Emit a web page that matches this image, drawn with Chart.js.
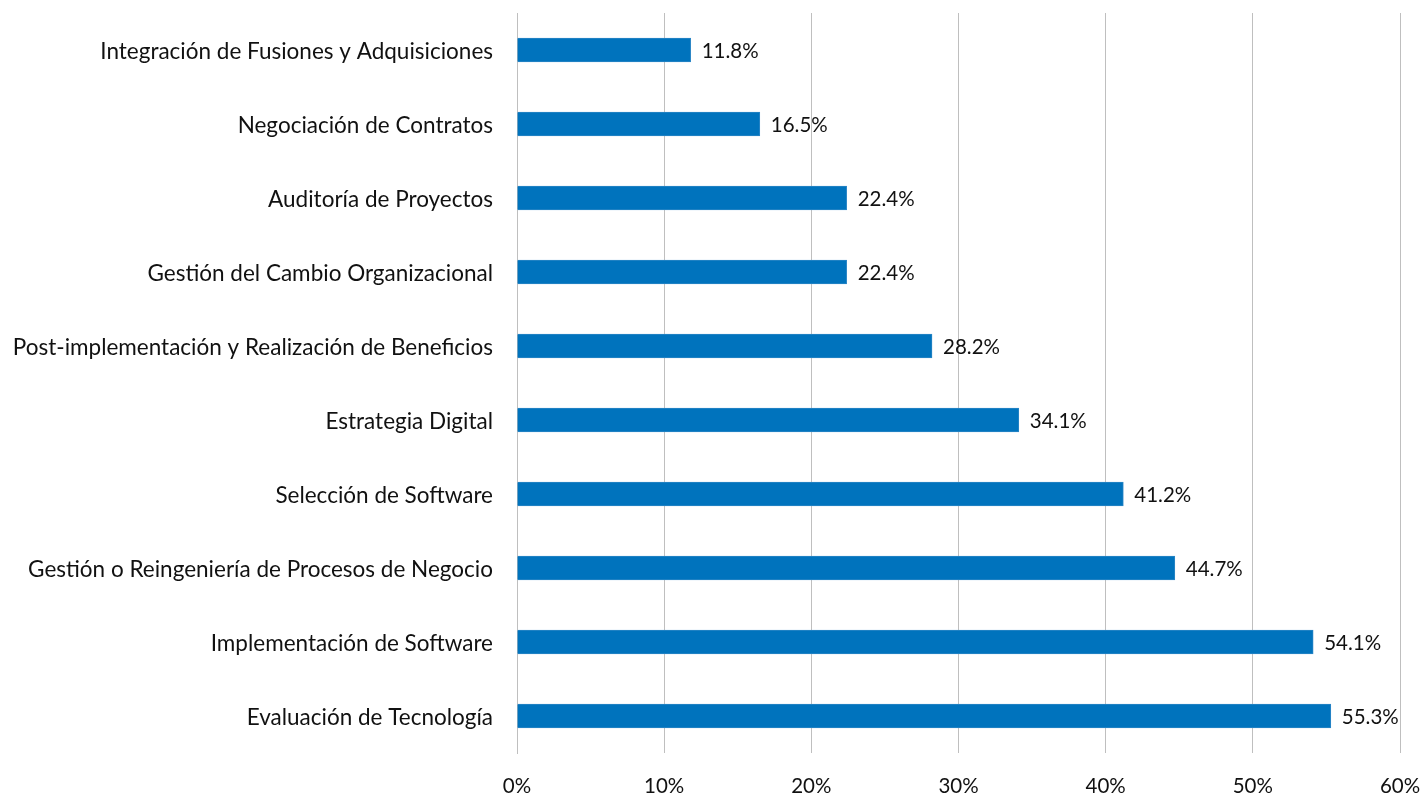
<!DOCTYPE html>
<html>
<head>
<meta charset="utf-8">
<script src="https://cdn.jsdelivr.net/npm/chart.js@4"></script>
<style>
	html, body { margin: 0; padding: 0; background: #fff; }
	#wrap { width: 1425px; height: 796px; }
</style>
</head>
<body>
<div id="wrap"><canvas id="chart"></canvas></div>
<script>
const categories = [
	'Integración de Fusiones y Adquisiciones',
	'Negociación de Contratos',
	'Auditoría de Proyectos',
	'Gestión del Cambio Organizacional',
	'Post-implementación y Realización de Beneficios',
	'Estrategia Digital',
	'Selección de Software',
	'Gestión o Reingeniería de Procesos de Negocio',
	'Implementación de Software',
	'Evaluación de Tecnología'
];
const values = [11.8, 16.5, 22.4, 22.4, 28.2, 34.1, 41.2, 44.7, 54.1, 55.3];
const xTicks = [0, 10, 20, 30, 40, 50, 60];

const fontFamily = 'Lato, "Open Sans", sans-serif';
const textColor = '#111';
const gridColor = '#bfbfbf';

// value labels after each bar
const barLabels = {
	id: 'barLabels',
	afterDatasetsDraw(chart) {
		const ctx = chart.ctx;
		const meta = chart.getDatasetMeta(0);
		ctx.save();
		ctx.font = '20.5px ' + fontFamily;
		ctx.fillStyle = textColor;
		ctx.textAlign = 'left';
		ctx.textBaseline = 'middle';
		meta.data.forEach((bar, i) => {
			ctx.fillText(values[i].toFixed(1) + '%', bar.x + 11, bar.y + 1);
		});
		ctx.restore();
	}
};

new Chart(document.getElementById('chart'), {
	type: 'bar',
	data: {
		labels: categories,
		datasets: [{
			data: values,
			backgroundColor: '#0073bd',
			borderColor: '#2a86c6',
			borderWidth: 1,
			barThickness: 24
		}]
	},
	options: {
		indexAxis: 'y',
		responsive: true,
		maintainAspectRatio: false,
		animation: false,
		layout: { padding: { top: 13, right: 25, left: 0, bottom: 0 } },
		plugins: {
			legend: { display: false },
			tooltip: { enabled: false }
		},
		scales: {
			x: {
				min: 0,
				max: 60,
				afterBuildTicks: scale => { scale.ticks = xTicks.map(v => ({ value: v })); },
				afterFit: scale => {
					scale.height = 43;
					scale.paddingLeft = 0;
					scale.paddingRight = 0;
				},
				grid: { color: gridColor, lineWidth: 1, drawTicks: false },
				border: { display: false },
				ticks: {
					padding: 21,
					color: textColor,
					font: { family: fontFamily, size: 20.5 },
					callback: v => v + '%'
				}
			},
			y: {
				afterFit: scale => {
					scale.width = 517;
					scale.paddingTop = 0;
					scale.paddingBottom = 0;
				},
				grid: { display: false, drawTicks: false },
				border: { display: true, color: gridColor, width: 1 },
				ticks: {
					padding: 24,
					labelOffset: 2,
					color: textColor,
					font: { family: fontFamily, size: 22.5 }
				}
			}
		}
	},
	plugins: [barLabels]
});
</script>
</body>
</html>
